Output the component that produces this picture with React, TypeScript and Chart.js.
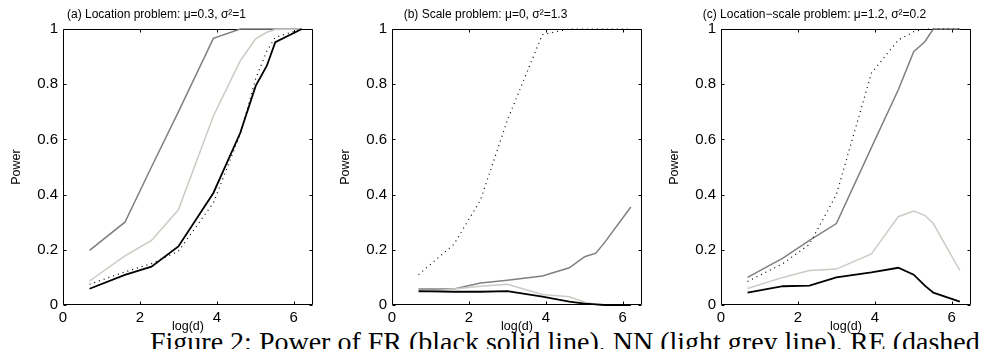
import React, { useEffect, useRef } from "react";
import { Chart, registerables } from "chart.js";

Chart.register(...registerables);

// log(d) positions of the simulations
const LOG_D = [0.69, 1.61, 2.3, 3.0, 3.91, 4.61, 5.01, 5.3, 5.52, 6.21];

const X_TICKS = [0, 2, 4, 6];
const X_TICK_LABELS = ["0", "2", "4", "6"];
const Y_TICKS = [0, 0.2, 0.4, 0.6, 0.8, 1];
const Y_TICK_LABELS = ["0", "0.2", "0.4", "0.6", "0.8", "1"];

const TITLE_A = "(a) Location problem: \u03bc=0.3, \u03c3\u00b2=1";
const TITLE_B = "(b) Scale problem: \u03bc=0, \u03c3\u00b2=1.3";
const TITLE_C = "(c) Location\u2212scale problem: \u03bc=1.2, \u03c3\u00b2=0.2";

const CAPTION = "Figure 2: Power of FR (black solid line), NN (light grey line), RE (dashed line)";

// (a) location problem
const A_FR = [0.059, 0.109, 0.139, 0.212, 0.406, 0.624, 0.794, 0.867, 0.952, 1.0];
const A_NN = [0.087, 0.178, 0.234, 0.345, 0.685, 0.885, 0.964, 0.988, 0.998, 1.0];
const A_RE = [0.075, 0.12, 0.15, 0.195, 0.37, 0.62, 0.82, 0.92, 0.97, 1.0];
const A_OT = [0.198, 0.3, 0.5, 0.7, 0.966, 1.0, 1.0, 1.0, 1.0, 1.0];

// (b) scale problem
const B_FR = [0.05, 0.048, 0.048, 0.05, 0.03, 0.012, 0.005, 0.002, 0.0, 0.0];
const B_NN = [0.045, 0.058, 0.068, 0.075, 0.038, 0.03, 0.01, 0.003, 0.0, 0.0];
const B_RE = [0.11, 0.22, 0.38, 0.67, 0.98, 1.0, 1.0, 1.0, 1.0, 1.0];
const B_OT = [0.058, 0.058, 0.08, 0.09, 0.105, 0.135, 0.175, 0.188, 0.225, 0.355];

// (c) location-scale problem
const C_FR = [0.045, 0.068, 0.07, 0.1, 0.118, 0.135, 0.11, 0.07, 0.045, 0.012];
const C_NN = [0.06, 0.1, 0.125, 0.13, 0.185, 0.32, 0.34, 0.325, 0.295, 0.125];
const C_RE = [0.085, 0.15, 0.22, 0.4, 0.84, 0.96, 0.99, 1.0, 1.0, 1.0];
const C_OT = [0.1, 0.17, 0.234, 0.295, 0.57, 0.78, 0.918, 0.954, 1.0, 1.0];

const SANS = '"Liberation Sans", Arial, Helvetica, sans-serif';
const BLACK = "#000000";
const DARK_GREY = "#7f7f7f";
const LIGHT_GREY = "#cbcac3";

const CANVAS_W = 329;
const CANVAS_H = 349;

const boxPlugin = {
  id: "matlabBox",
  beforeDatasetsDraw(chart: any) {
    const { ctx, chartArea, scales } = chart;
    const L = Math.round(chartArea.left) + 0.5;
    const R = Math.round(chartArea.right) - 0.5;
    const T = Math.round(chartArea.top) + 0.5;
    const B = Math.round(chartArea.bottom) - 0.5;
    const tl = 3;
    ctx.save();
    ctx.strokeStyle = "#000";
    ctx.lineWidth = 1;
    ctx.beginPath();
    ctx.rect(L, T, R - L, B - T);
    X_TICKS.forEach((v) => {
      const px = Math.round(scales.x.getPixelForValue(v)) + 0.5;
      ctx.moveTo(px, B);
      ctx.lineTo(px, B - tl);
      ctx.moveTo(px, T);
      ctx.lineTo(px, T + tl);
    });
    Y_TICKS.forEach((v) => {
      const py = Math.round(scales.y.getPixelForValue(v)) + 0.5;
      ctx.moveTo(L, py);
      ctx.lineTo(L + tl, py);
      ctx.moveTo(R, py);
      ctx.lineTo(R - tl, py);
    });
    ctx.stroke();
    ctx.restore();
  },
};

function series(values: number[]) {
  return values.map((v, i) => ({ x: LOG_D[i], y: v }));
}

function makeConfig(title: string, fr: number[], nn: number[], re: number[], ot: number[]): any {
  const common = { pointRadius: 0, tension: 0, fill: false, clip: 3 };
  return {
    type: "line",
    data: {
      datasets: [
        { ...common, label: "FR", data: series(fr), borderColor: BLACK, borderWidth: 1.8 },
        { ...common, label: "RE", data: series(re), borderColor: BLACK, borderWidth: 1.2, borderDash: [1, 4] },
        { ...common, label: "NN", data: series(nn), borderColor: LIGHT_GREY, borderWidth: 1.5 },
        { ...common, label: "Other", data: series(ot), borderColor: DARK_GREY, borderWidth: 1.5 },
      ],
    },
    options: {
      responsive: false,
      animation: false,
      devicePixelRatio: 1,
      layout: { padding: { left: 0, right: 16, top: 0, bottom: 0 } },
      plugins: {
        legend: { display: false },
        tooltip: { enabled: false },
        title: {
          display: true,
          text: title,
          color: "#000",
          font: { family: SANS, size: 12, weight: "normal", lineHeight: 1.2 },
          padding: { top: 7.8, bottom: 6.8 },
        },
      },
      scales: {
        x: {
          type: "linear",
          min: 0,
          max: 6.5,
          grid: { display: false, drawTicks: false },
          border: { display: false },
          afterBuildTicks: (s: any) => {
            s.ticks = X_TICKS.map((v) => ({ value: v }));
          },
          afterFit: (s: any) => {
            s.height = 44;
          },
          ticks: {
            color: "#000",
            font: { family: SANS, size: 15 },
            padding: 4,
            maxRotation: 0,
            autoSkip: false,
            callback: (_v: any, i: number) => X_TICK_LABELS[i],
          },
          title: {
            display: true,
            text: "log(d)",
            color: "#000",
            font: { family: SANS, size: 12.5, lineHeight: 1.2 },
            padding: { top: 0, bottom: 14.5 },
          },
        },
        y: {
          type: "linear",
          min: 0,
          max: 1,
          grid: { display: false, drawTicks: false },
          border: { display: false },
          afterBuildTicks: (s: any) => {
            s.ticks = Y_TICKS.map((v) => ({ value: v }));
          },
          afterFit: (s: any) => {
            s.width = 63;
          },
          ticks: {
            color: "#000",
            font: { family: SANS, size: 15 },
            padding: 5,
            autoSkip: false,
            callback: (_v: any, i: number) => Y_TICK_LABELS[i],
          },
          title: {
            display: true,
            text: "Power",
            color: "#000",
            font: { family: SANS, size: 12.5, lineHeight: 1.2 },
            padding: { top: 9.5, bottom: 0 },
          },
        },
      },
    },
    plugins: [boxPlugin],
  };
}

function Panel({ left, config }: { left: number; config: any }) {
  const ref = useRef<HTMLCanvasElement>(null);
  useEffect(() => {
    const chart = new Chart(ref.current as HTMLCanvasElement, config);
    return () => chart.destroy();
  }, []);
  return (
    <canvas
      ref={ref}
      width={CANVAS_W}
      height={CANVAS_H}
      style={{ position: "absolute", left, top: 0, width: CANVAS_W, height: CANVAS_H }}
    />
  );
}

export default function App() {
  return (
    <div
      style={{
        position: "relative",
        width: 991,
        height: 349,
        margin: "-8px 0 0 -8px",
        overflow: "hidden",
        background: "#fff",
      }}
    >
      <div
        style={{
          position: "absolute",
          left: 150,
          top: 328,
          fontFamily: '"Liberation Serif", "Times New Roman", serif',
          fontSize: 28,
          lineHeight: 1,
          whiteSpace: "nowrap",
          color: "#000",
        }}
      >
        {CAPTION}
      </div>
      <Panel left={0} config={makeConfig(TITLE_A, A_FR, A_NN, A_RE, A_OT)} />
      <Panel left={329} config={makeConfig(TITLE_B, B_FR, B_NN, B_RE, B_OT)} />
      <Panel left={658} config={makeConfig(TITLE_C, C_FR, C_NN, C_RE, C_OT)} />
    </div>
  );
}
